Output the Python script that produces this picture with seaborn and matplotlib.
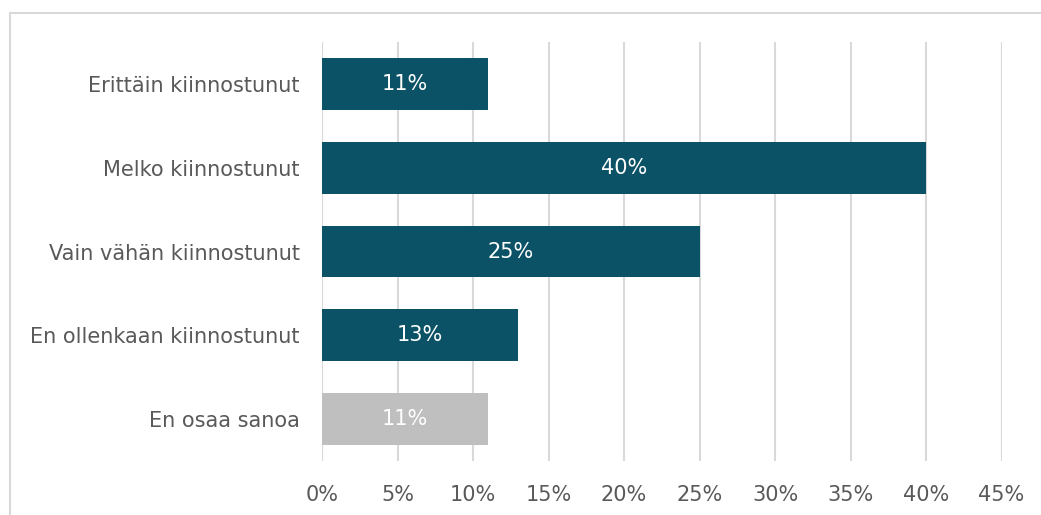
import matplotlib
matplotlib.use("Agg")
import matplotlib.pyplot as plt
import seaborn as sns
import pandas as pd
from matplotlib.patches import Rectangle
from matplotlib.ticker import MultipleLocator, FuncFormatter

categories = [
    "Erittäin kiinnostunut",
    "Melko kiinnostunut",
    "Vain vähän kiinnostunut",
    "En ollenkaan kiinnostunut",
    "En osaa sanoa",
]
shares = [11, 40, 25, 13, 11]
bar_colors = ["#0B5266", "#0B5266", "#0B5266", "#0B5266", "#BFBFBF"]

df = pd.DataFrame({"category": categories, "share": shares})

sns.set_theme(style="white")
plt.rcParams["font.family"] = ["DejaVu Sans"]

W, H = 1041, 515
fig = plt.figure(figsize=(W / 100, H / 100), dpi=100)
ax = fig.add_axes([322 / W, 1 - 461 / H, (1001.5 - 322) / W, (461 - 42) / H])

sns.barplot(data=df, x="share", y="category", hue="category", palette=bar_colors,
            legend=False, width=0.62, ax=ax, saturation=1, zorder=3,
            linewidth=0)

ax.set_xlim(0, 45)
ax.set_ylim(4.5, -0.5)
ax.xaxis.set_major_locator(MultipleLocator(5))
ax.xaxis.set_major_formatter(FuncFormatter(lambda v, _: f"{v:.0f}%"))
ax.grid(axis="x", color="#D9D9D9", linewidth=1.5, zorder=0)
ax.grid(axis="y", visible=False)
for s in ax.spines.values():
    s.set_visible(False)
ax.set_xlabel("")
ax.set_ylabel("")
ax.tick_params(axis="both", length=0, labelsize=15, colors="#595959")
ax.tick_params(axis="y", pad=16)
ax.tick_params(axis="x", pad=17)

for i, v in enumerate(shares):
    ax.text(v / 2, i, f"{v}%", ha="center", va="center", color="white",
            fontsize=15, zorder=4)

# outer frame of the chart area
fig.patches.append(Rectangle((9.5 / W, -0.1), 1.2, 1 - 12.5 / H + 0.1,
                             transform=fig.transFigure, fill=False,
                             edgecolor="#D9D9D9", linewidth=1.5))

fig.savefig("out.png", dpi=100)
